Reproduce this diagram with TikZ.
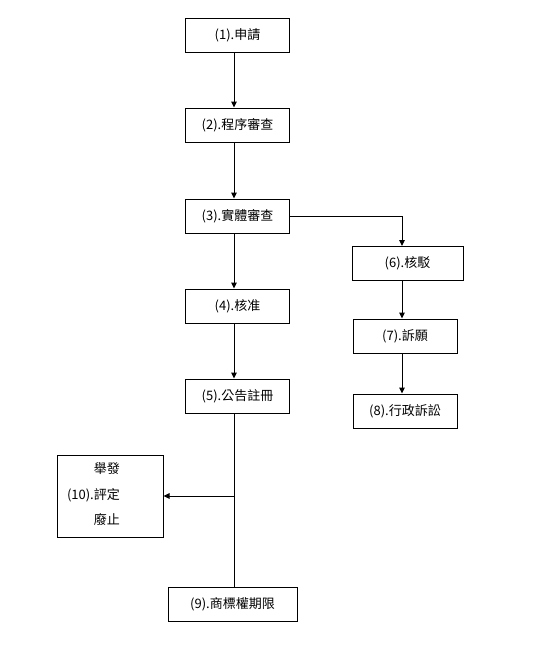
\documentclass[tikz,border=0pt]{standalone}
\usepackage{fontspec}
\setmainfont{Noto Sans CJK TC}
\usepackage{tikz}
\usetikzlibrary{arrows.meta,positioning}

\begin{document}
\begin{tikzpicture}[
  x=1pt, y=-1pt,
  >={Triangle[width=5.5pt,length=6pt]},
  font=\fontsize{13}{15}\selectfont,
  stagebox/.style={rectangle, draw, line width=1pt, minimum width=104pt,
                   minimum height=34pt, inner sep=0pt, fill=white},
  flow/.style={->, line width=1pt},
  plain/.style={line width=1pt},
]
\useasboundingbox (0,0) rectangle (533,649);

% Main column of stages
\node[stagebox] (apply)   at (237.5, 35)  {(1).申請};
\node[stagebox] (formal)  at (237.5, 125) {(2).程序審查};
\node[stagebox] (subst)   at (237.5, 216) {(3).實體審查};
\node[stagebox] (approve) at (237.5, 306) {(4).核准};
\node[stagebox] (publish) at (237.5, 396) {(5).公告註冊};

% Rejection branch
\node[stagebox, minimum width=111pt] (reject) at (407.5, 263.5) {(6).核駁};
\node[stagebox] (appeal)  at (405, 336) {(7).訴願};
\node[stagebox] (suit)    at (405, 411) {(8).行政訴訟};

% After registration
\node[stagebox, minimum width=106pt, minimum height=82pt, text width=86pt,
      inner xsep=10pt, align=left] (dispute) at (110, 496)
  {\begin{tabular}{@{}r@{}l@{}}
     & 舉發\\[10pt]
   (10). & 評定\\[10pt]
     & 廢止
   \end{tabular}};
\node[stagebox, minimum width=129pt] (term) at (232.5, 604) {(9).商標權期限};

% Spines the connectors run along
\coordinate (spine)  at (234, 0);
\coordinate (rspine) at (402, 0);

% Connectors
\draw[flow] (apply.south -| spine)   -- (formal.north -| spine);
\draw[flow] (formal.south -| spine)  -- (subst.north -| spine);
\draw[flow] (subst.south -| spine)   -- (approve.north -| spine);
\draw[flow] (approve.south -| spine) -- (publish.north -| spine);
\draw[flow] (subst.east) -| (reject.north -| rspine);
\draw[flow] (reject.south -| rspine) -- (appeal.north -| rspine);
\draw[flow] (appeal.south -| rspine) -- (suit.north -| rspine);
\draw[plain] (publish.south -| spine) -- (term.north -| spine);
\draw[flow] (dispute.east -| spine) -- (dispute.east);

\end{tikzpicture}
\end{document}
